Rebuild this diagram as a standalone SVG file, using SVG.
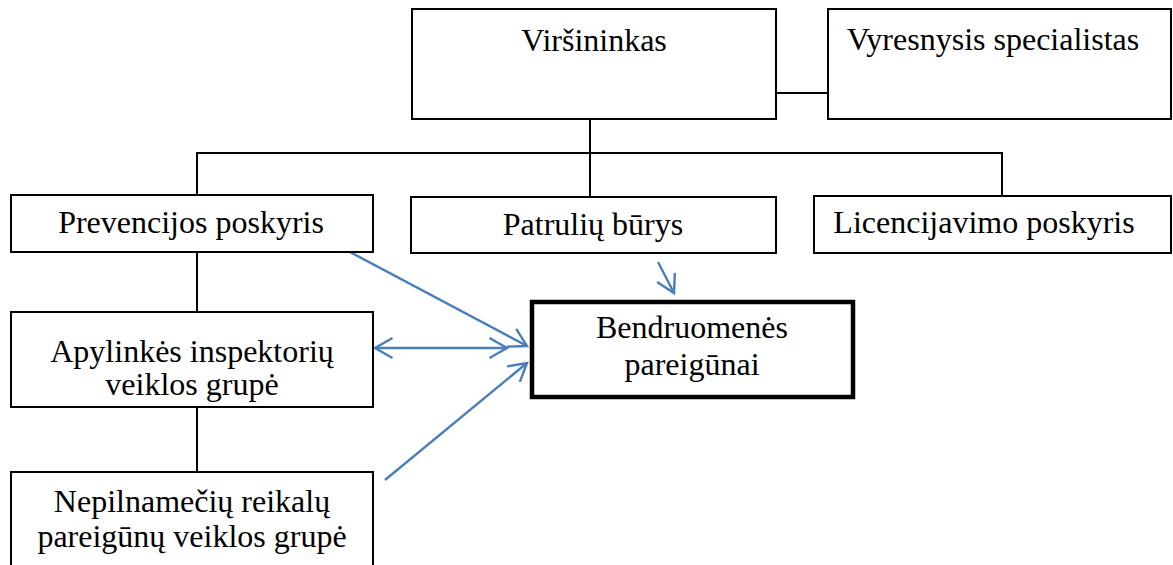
<svg xmlns="http://www.w3.org/2000/svg" width="1173" height="565" viewBox="0 0 1173 565">
<defs>
<style>
.box{fill:#fff;stroke:#000;stroke-width:2}
.thick{fill:#fff;stroke:#000;stroke-width:4.5}
.t{font-family:"Liberation Serif","Times New Roman",serif;font-size:32px;fill:#000;text-anchor:middle}
.ln{stroke:#000;stroke-width:2;fill:none}
.ar{stroke:#4a7ebb;stroke-width:2.4;fill:none;marker-end:url(#ah)}
.ar2{stroke:#4a7ebb;stroke-width:2.4;fill:none;marker-end:url(#ah);marker-start:url(#ah)}
</style>
<marker id="ah" markerUnits="userSpaceOnUse" markerWidth="26" markerHeight="26" viewBox="-22 -13 26 26" refX="0" refY="0" orient="auto-start-reverse">
<path d="M-17.5,-10 L0,0 L-17.5,10" fill="none" stroke="#4a7ebb" stroke-width="2.4"/>
</marker>
</defs>
<g id="connectors">
<line class="ln" x1="776" y1="93" x2="828" y2="93"/>
<line class="ln" x1="590" y1="119" x2="590" y2="196"/>
<polyline class="ln" points="197,196 197,153 1002,153 1002,196"/>
<line class="ln" x1="197" y1="252" x2="197" y2="312"/>
<line class="ln" x1="197" y1="407" x2="197" y2="472"/>
<line class="ar" x1="350" y1="252" x2="527" y2="346"/>
<line class="ar2" x1="375" y1="348" x2="507" y2="348"/>
<line class="ar" x1="385" y1="480" x2="527" y2="363"/>
<line class="ar" x1="658" y1="262" x2="674" y2="293"/>
</g>
<g id="virsininkas">
<rect class="box" x="412" y="9" width="364" height="110"/>
<text class="t" x="594" y="51">Viršininkas</text>
</g>
<g id="vyresnysis">
<rect class="box" x="828" y="9" width="343" height="110"/>
<text class="t" x="993" y="50">Vyresnysis specialistas</text>
</g>
<g id="prevencijos">
<rect class="box" x="11" y="195" width="362" height="57"/>
<text class="t" x="191" y="233">Prevencijos poskyris</text>
</g>
<g id="patruliu">
<rect class="box" x="411" y="197" width="365" height="56"/>
<text class="t" x="593" y="235">Patrulių būrys</text>
</g>
<g id="licencijavimo">
<rect class="box" x="814" y="196" width="357" height="57"/>
<text class="t" x="984" y="233">Licencijavimo poskyris</text>
</g>
<g id="apylinkes">
<rect class="box" x="11" y="312" width="362" height="95"/>
<text class="t"><tspan x="192" y="362">Apylinkės inspektorių</tspan><tspan x="192" y="395">veiklos grupė</tspan></text>
</g>
<g id="nepilnameciu">
<rect class="box" x="11" y="472" width="362" height="100"/>
<text class="t"><tspan x="192" y="512">Nepilnamečių reikalų</tspan><tspan x="192" y="547">pareigūnų veiklos grupė</tspan></text>
</g>
<g id="bendruomenes">
<rect class="thick" x="532" y="302" width="321" height="95"/>
<text class="t"><tspan x="692" y="338">Bendruomenės</tspan><tspan x="692" y="375">pareigūnai</tspan></text>
</g>
</svg>
